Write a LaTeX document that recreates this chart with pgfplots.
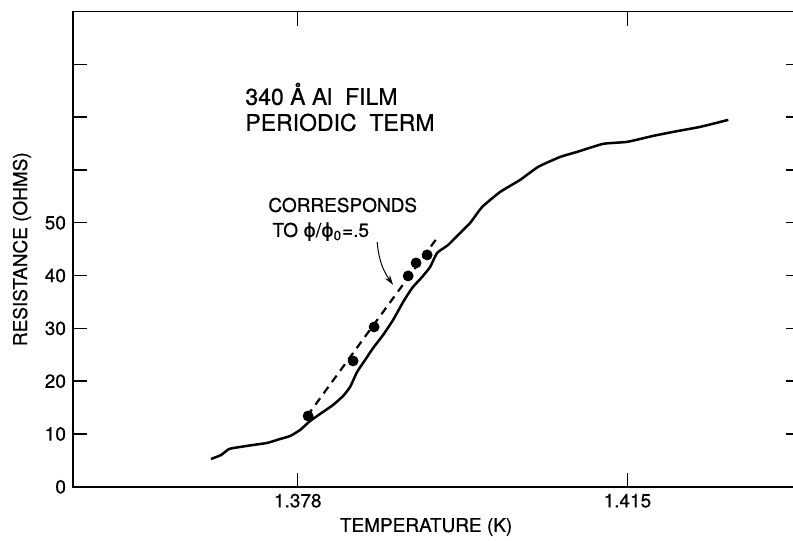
\documentclass[border=0pt]{standalone}
\usepackage{fontspec}
\setmainfont{TeX Gyre Heros}[FakeBold=0.6]
\newfontfamily\greekfont{DejaVu Sans}[FakeBold=0.6]
\usepackage{pgfplots}
\pgfplotsset{compat=1.18}
\usetikzlibrary{arrows.meta}

\newcommand\lbl{\fontsize{9.5}{11}\selectfont}
\newcommand\bigtxt{\fontsize{11.5}{13}\selectfont}

\begin{document}
\begin{tikzpicture}
\begin{axis}[
  name=main,
  scale only axis,
  width=363.5pt, height=237.65pt,
  xmin=1.35277, xmax=1.43437,
  ymin=0, ymax=90,
  xtick={1.378,1.415},
  xticklabels={1.378,1.415},
  ytick={0,10,20,30,40,50,60,70,80},
  yticklabels={0,10,20,30,40,50,{},{},{}},
  /pgf/number format/assume math mode=true,
  tick align=inside,
  major tick length=7pt,
  tick style={line width=0.7pt, black},
  axis line style={line width=0.8pt},
  ticklabel style={font=\lbl},
  xlabel={TEMPERATURE (K)},
  ylabel={RESISTANCE (OHMS)},
  label style={font=\lbl},
  xlabel style={at={(axis description cs:0.4857,-0.0846)}, anchor=center},
  ylabel style={at={(axis description cs:-0.0702,0.5)}, anchor=center},
  clip=false,
]
% measured curve
\addplot[black, line width=1.25pt, smooth, tension=0.3] coordinates {
  (1.36826,5.27) (1.36939,6.02) (1.37029,7.16) (1.37152,7.54) (1.37298,7.92)
  (1.37455,8.30) (1.37601,9.05) (1.37714,9.62) (1.37826,10.76) (1.37938,12.46)
  (1.38050,13.79) (1.38196,15.50) (1.38309,17.20) (1.38387,18.91) (1.38466,21.75)
  (1.38556,24.02) (1.38646,26.29) (1.38758,28.76) (1.38870,31.60) (1.38983,35.01)
  (1.39084,37.66) (1.39196,39.74) (1.39286,41.64) (1.39364,44.29) (1.39488,45.80)
  (1.39623,48.08) (1.39735,49.97) (1.39870,53.00) (1.40072,55.84) (1.40296,58.12)
  (1.40498,60.58) (1.40746,62.47) (1.40936,63.42) (1.41228,64.94) (1.41498,65.32)
  (1.41790,66.45) (1.42015,67.21) (1.42318,68.16) (1.42632,69.48)};
% periodic term, dashed fit
\addplot[black, line width=1.1pt, dash pattern=on 4pt off 3pt] coordinates {
  (1.37905,13.41) (1.39364,47.13)};
\addplot[only marks, mark=*, mark size=2.5pt, black] coordinates {
  (1.37916,13.41) (1.38421,23.83) (1.38657,30.27)
  (1.39039,39.93) (1.39128,42.39) (1.39252,43.91)};

\node[anchor=base west, inner sep=0pt, font=\bigtxt] at (axis cs:1.37208,72.32) {340 Å Al\ \ FILM};
\node[anchor=base west, inner sep=0pt, font=\bigtxt] at (axis cs:1.37208,67.40) {PERIODIC\ \ TERM};
\node[anchor=base west, inner sep=0pt, font=\lbl] at (axis cs:1.37466,52.05) {CORRESPONDS};
\node[anchor=base west, inner sep=0pt, font=\lbl] at (axis cs:1.37511,47.32)
  {TO {\greekfont ϕ}/{\greekfont ϕ}\textsubscript{0}=.5};
\draw[-{Stealth[length=5pt,width=3pt]}, line width=0.5pt]
  (axis cs:1.38691,46.37) to[out=-85,in=125] (axis cs:1.38870,38.23);
\end{axis}
\pgfresetboundingbox
\path[use as bounding box] ([xshift=-36.5pt,yshift=-27.1pt]main.south west)
  rectangle ([xshift=-3.5pt,yshift=5.75pt]main.north east);
\end{tikzpicture}
\end{document}
